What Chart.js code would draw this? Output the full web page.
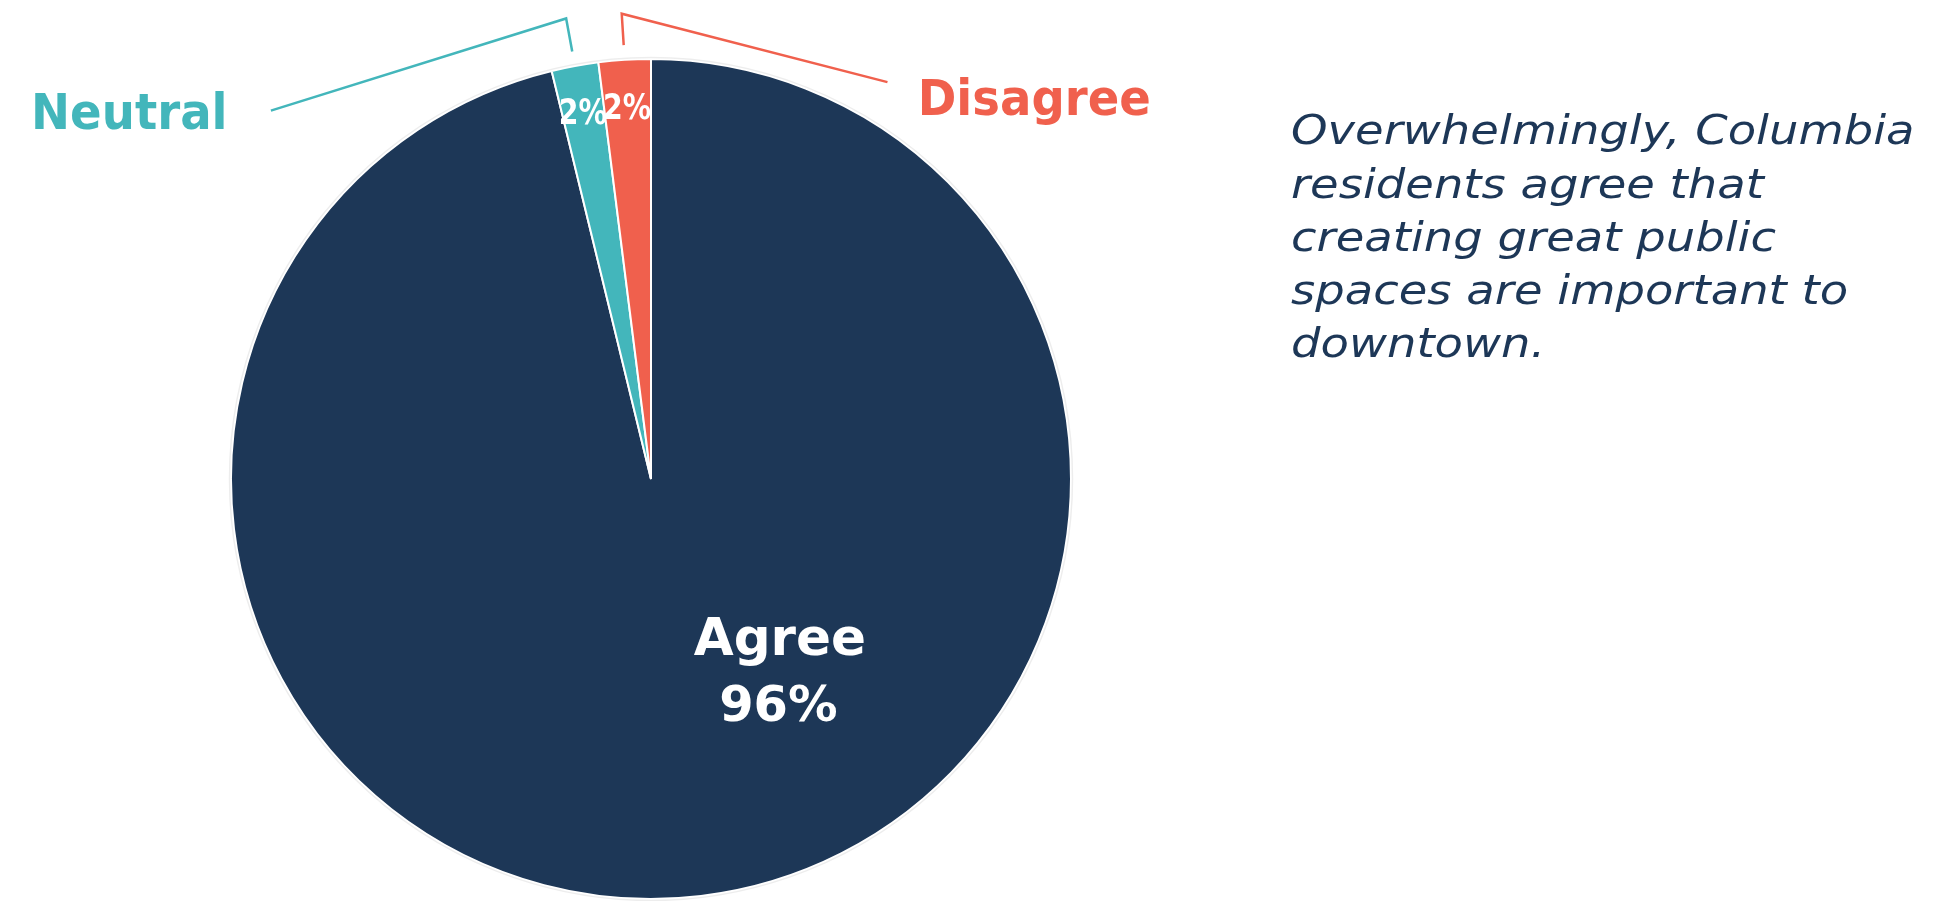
<!DOCTYPE html>
<html><head><meta charset="utf-8">
<script src="https://cdn.jsdelivr.net/npm/chart.js@4.4.1/dist/chart.umd.min.js"></script>
<style>
html,body{margin:0;padding:0;background:#fff;overflow:hidden;}
#wrap{position:relative;width:1935px;height:901px;}
#c{position:absolute;left:0;top:0;}
#note{position:absolute;left:1291px;top:0;color:#1d3757;font-family:'DejaVu Sans';font-style:italic;font-weight:400;white-space:nowrap;transform-origin:0 0;}
</style></head><body>
<div id="wrap"><canvas id="c" width="1935" height="901"></canvas><div id="note"></div></div>
<script>
// ---- data ----
const categories = ['Agree', 'Neutral', 'Disagree'];
const values = [96.2, 1.8, 2.0];
const valueLabels = ['96%', '2%', '2%'];
const noteLines = ['Overwhelmingly, Columbia', 'residents agree that', 'creating great public', 'spaces are important to', 'downtown.'];
const colors = ['#1d3757', '#43b6bb', '#f0604d'];

const FAMILY = 'DejaVu Sans';

function fitFont(ctx, text, style, weight, family, cap, width) {
  ctx.font = `${style} ${weight} 100px "${family}"`;
  const capR = ctx.measureText('H').actualBoundingBoxAscent / 100;
  const size = cap / capR;
  ctx.font = `${style} ${weight} ${size}px "${family}"`;
  const m = ctx.measureText(text);
  const ink = m.actualBoundingBoxLeft + m.actualBoundingBoxRight;
  return { font: ctx.font, size, sx: width / ink, w: m.width, ink, left: m.actualBoundingBoxLeft };
}

function drawText(ctx, text, spec, x, y, align, color) {
  ctx.save();
  ctx.font = spec.font;
  ctx.textAlign = 'left';
  ctx.textBaseline = 'alphabetic';
  ctx.fillStyle = color;
  const total = spec.ink * spec.sx;
  let sx = x;
  if (align === 'center') sx = x - total / 2;
  else if (align === 'right') sx = x - total;
  ctx.translate(sx, y);
  ctx.scale(spec.sx, 1);
  ctx.fillText(text, spec.left, 0);
  ctx.restore();
}

const labelPlugin = {
  id: 'labels',
  afterDraw(chart) {
    const ctx = chart.ctx;
    const meta = chart.getDatasetMeta(0);
    const a0 = meta.data[0];
    const cx = a0.x, cy = a0.y, r = a0.outerRadius;
    const polar = (ang, rr) => [cx + Math.cos(ang) * rr, cy + Math.sin(ang) * rr];

    // faint outline ring
    ctx.save();
    ctx.beginPath();
    ctx.arc(cx, cy, r + 1.5, 0, Math.PI * 2);
    ctx.strokeStyle = 'rgba(0,0,0,0.07)';
    ctx.lineWidth = 1.5;
    ctx.stroke();
    ctx.restore();

    // big label inside Agree slice
    const agreeSpec = fitFont(ctx, categories[0], 'normal', 'bold', FAMILY, 37, 170);
    const pctSpec = fitFont(ctx, valueLabels[0], 'normal', 'bold', FAMILY, 36, 115);
    drawText(ctx, categories[0], agreeSpec, cx + 0.304 * r, cy + 0.419 * r, 'center', '#ffffff');
    drawText(ctx, valueLabels[0], pctSpec, cx + 0.304 * r, cy + 0.577 * r, 'center', '#ffffff');

    // small slice percent labels
    const smallSpec = fitFont(ctx, '2%', 'normal', 'bold', FAMILY, 26, 46);
    for (let i = 1; i < values.length; i++) {
      const arc = meta.data[i];
      const mid = (arc.startAngle + arc.endAngle) / 2;
      const [x, y] = polar(mid, 0.89 * r);
      drawText(ctx, valueLabels[i], smallSpec, x, y + 13, 'center', '#ffffff');
    }

    // leader lines and category labels
    ctx.save();
    ctx.lineWidth = 2.5;
    ctx.lineJoin = 'miter';
    // Neutral
    {
      const arc = meta.data[1];
      const mid = (arc.startAngle + arc.endAngle) / 2;
      const A = polar(mid, 1.035 * r), B = polar(mid, 1.115 * r);
      const C = [cx - 0.905 * r, cy - 0.877 * r];
      ctx.strokeStyle = colors[1];
      ctx.beginPath(); ctx.moveTo(A[0], A[1]); ctx.lineTo(B[0], B[1]); ctx.lineTo(C[0], C[1]); ctx.stroke();
      const spec = fitFont(ctx, categories[1], 'normal', 'bold', FAMILY, 36, 189);
      drawText(ctx, categories[1], spec, C[0] - 47, C[1] + 18, 'right', colors[1]);
    }
    // Disagree
    {
      const arc = meta.data[2];
      const mid = (arc.startAngle + arc.endAngle) / 2;
      const A = polar(mid, 1.035 * r), B = polar(mid, 1.11 * r);
      const C = [cx + 0.563 * r, cy - 0.945 * r];
      ctx.strokeStyle = colors[2];
      ctx.beginPath(); ctx.moveTo(A[0], A[1]); ctx.lineTo(B[0], B[1]); ctx.lineTo(C[0], C[1]); ctx.stroke();
      const spec = fitFont(ctx, categories[2], 'normal', 'bold', FAMILY, 36, 228);
      drawText(ctx, categories[2], spec, C[0] + 34, C[1] + 33, 'left', colors[2]);
    }
    ctx.restore();
  }
};

new Chart(document.getElementById('c'), {
  type: 'pie',
  data: {
    labels: categories,
    datasets: [{ data: values, backgroundColor: colors, borderColor: '#ffffff', borderWidth: 2 }]
  },
  options: {
    responsive: false,
    animation: false,
    layout: { padding: { top: 58, bottom: 1, left: 230, right: 863 } },
    plugins: { legend: { display: false }, tooltip: { enabled: false } }
  },
  plugins: [labelPlugin]
});

// side note as real HTML text
(function () {
  const mc = document.createElement('canvas').getContext('2d');
  const spec = fitFont(mc, noteLines[0], 'italic', '400', FAMILY, 30, 620);
  mc.font = spec.font;
  const m = mc.measureText(noteLines[0]);
  const asc = m.fontBoundingBoxAscent, desc = m.fontBoundingBoxDescent;
  const LH = 53.2;
  const note = document.getElementById('note');
  note.style.fontSize = spec.size + 'px';
  note.style.lineHeight = LH + 'px';
  note.style.transform = 'scaleX(' + spec.sx + ')';
  const firstBaseline = 145;
  note.style.top = (firstBaseline - ((LH - (asc + desc)) / 2 + asc)) + 'px';
  note.innerHTML = noteLines.map(l => '<div>' + l + '</div>').join('');
})();
</script>
</body></html>
